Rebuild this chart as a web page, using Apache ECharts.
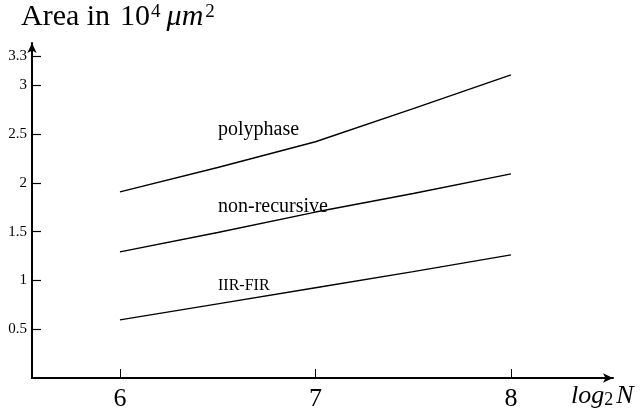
<!DOCTYPE html>
<html>
<head>
<meta charset="utf-8">
<script src="https://cdn.jsdelivr.net/npm/echarts@6/dist/echarts.min.js"></script>
<style>
  html, body { margin: 0; padding: 0; background: #fff; }
  #chart { width: 644px; height: 419px; }
</style>
</head>
<body>
<div id="chart"></div>
<script>
// Area versus filter length (log2 N) for three decimator structures
const logN = [6, 6.5, 7, 7.5, 8];
const polyphase = [1.907, 2.157, 2.42, 2.76, 3.105];
const nonRecursive = [1.292, 1.49, 1.70, 1.89, 2.091];
const iirFir = [0.595, 0.76, 0.925, 1.09, 1.261];

const xTicks = [6, 7, 8];
const yTicks = [0.5, 1, 1.5, 2, 2.5, 3, 3.3];

const SERIF = '"Liberation Serif", "Times New Roman", serif';

function pairs(ys) {
  return logN.map((x, i) => [x, ys[i]]);
}

function curve(name, ys) {
  return {
    name: name,
    type: 'line',
    data: pairs(ys),
    symbol: 'none',
    smooth: false,
    lineStyle: { color: '#000', width: 1.4 },
    silent: true
  };
}

const chart = echarts.init(document.getElementById('chart'), null, { renderer: 'canvas' });

chart.setOption({
  animation: false,
  backgroundColor: '#fff',
  grid: { left: 32, right: 31, top: 43, bottom: 41, containLabel: false },
  xAxis: {
    type: 'value',
    min: 5.55,
    max: 8.522,
    splitLine: { show: false },
    axisLine: {
      show: true,
      lineStyle: { color: '#000', width: 2 },
      symbol: ['none', 'arrow'],
      symbolSize: [7, 10]
    },
    axisTick: {
      show: true,
      inside: true,
      length: 9,
      customValues: xTicks,
      lineStyle: { color: '#000', width: 1 }
    },
    axisLabel: {
      show: true,
      customValues: xTicks,
      color: '#000',
      fontFamily: SERIF,
      fontSize: 26,
      margin: 8
    }
  },
  yAxis: {
    type: 'value',
    min: 0,
    max: 3.432,
    splitLine: { show: false },
    axisLine: {
      show: true,
      lineStyle: { color: '#000', width: 2 },
      symbol: ['none', 'arrow'],
      symbolSize: [7, 10]
    },
    axisTick: {
      show: true,
      inside: true,
      length: 9,
      customValues: yTicks,
      lineStyle: { color: '#000', width: 1.2 }
    },
    axisLabel: {
      show: true,
      customValues: yTicks,
      color: '#000',
      fontFamily: SERIF,
      fontSize: 15,
      margin: 5,
      verticalAlign: 'middle',
      padding: [0, 0, 11, 0]
    }
  },
  series: [
    curve('polyphase', polyphase),
    curve('non-recursive', nonRecursive),
    curve('IIR-FIR', iirFir)
  ],
  graphic: [
    {
      type: 'text',
      left: 21,
      top: 0,
      style: {
        text: '{a|Area in}{n|10}{s|4}{i|μm}{s|2}',
        rich: {
          a: { fontFamily: SERIF, fontSize: 30, fill: '#000', verticalAlign: 'bottom', lineHeight: 32 },
          n: { fontFamily: SERIF, fontSize: 30, fill: '#000', verticalAlign: 'bottom', lineHeight: 32, padding: [0, 0, 0, 10] },
          i: { fontFamily: SERIF, fontStyle: 'italic', fontSize: 30, fill: '#000', verticalAlign: 'bottom', lineHeight: 32, padding: [0, 1, 0, 6] },
          s: { fontFamily: SERIF, fontSize: 19, fill: '#000', verticalAlign: 'top', lineHeight: 19, padding: [3, 0, 0, 1] }
        }
      }
    },
    {
      type: 'text',
      left: 571,
      top: 383,
      style: {
        text: '{i|log}{s|2}{i|N}',
        rich: {
          i: { fontFamily: SERIF, fontStyle: 'italic', fontSize: 26, fill: '#000', verticalAlign: 'top', lineHeight: 26 },
          s: { fontFamily: SERIF, fontSize: 18, fill: '#000', verticalAlign: 'bottom', lineHeight: 18, padding: [0, 3, 0, 0] }
        }
      }
    },
    {
      type: 'text',
      left: 218,
      top: 120,
      style: { text: 'polyphase', fontFamily: SERIF, fontSize: 20, fill: '#000' }
    },
    {
      type: 'text',
      left: 218,
      top: 197,
      style: { text: 'non-recursive', fontFamily: SERIF, fontSize: 20, fill: '#000' }
    },
    {
      type: 'text',
      left: 218,
      top: 278,
      style: { text: 'IIR-FIR', fontFamily: SERIF, fontSize: 16, fill: '#000' }
    }
  ]
});
</script>
</body>
</html>
